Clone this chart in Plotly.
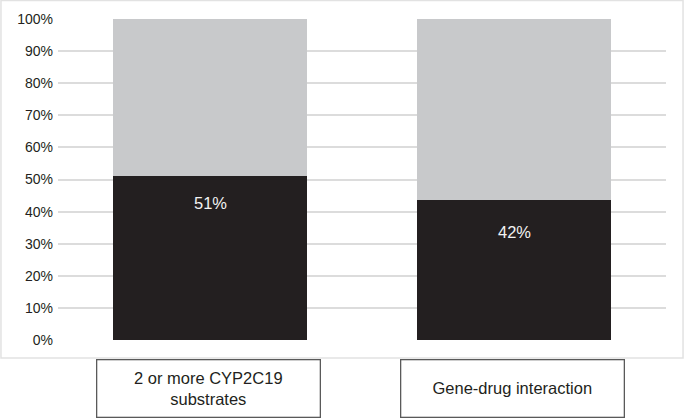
import plotly.graph_objects as go

categories = ["2 or more CYP2C19<br>substrates", "Gene-drug interaction"]
yes_values = [51, 43.6]
no_values = [49, 56.4]
bar_labels = ["51%", "42%"]
label_yshift = [-27, -32]
tick_vals = [0, 10, 20, 30, 40, 50, 60, 70, 80, 90, 100]
tick_text = [f"{v}%" for v in tick_vals]

x_idx = list(range(len(categories)))

fig = go.Figure()
fig.add_trace(go.Bar(x=x_idx, y=yes_values, marker=dict(color="#231f20", line=dict(width=0)),
                     width=0.64, showlegend=False, hoverinfo="skip"))
fig.add_trace(go.Bar(x=x_idx, y=no_values, marker=dict(color="#c8c9cb", line=dict(width=0)),
                     width=0.64, showlegend=False, hoverinfo="skip"))

annotations = []
for i, (v, lab, ys) in enumerate(zip(yes_values, bar_labels, label_yshift)):
    annotations.append(dict(x=i, y=v, xref="x", yref="y", text=lab, showarrow=False,
                            yshift=ys, yanchor="middle",
                            font=dict(family="Liberation Sans, Arial, sans-serif", size=16.5, color="#f2f2f2")))
for i, cat in enumerate(categories):
    annotations.append(dict(x=i, y=-0.151, xref="x", yref="paper", text=cat, showarrow=False,
                            xshift=-2, yanchor="middle", xanchor="center",
                            width=222, height=56, borderpad=0, borderwidth=1.3,
                            bordercolor="#5a5a5a", bgcolor="white",
                            font=dict(family="Liberation Sans, Arial, sans-serif", size=16.5, color="#231f20")))

fig.update_layout(
    barmode="stack",
    width=685, height=419,
    margin=dict(l=58, r=19, t=19, b=79),
    paper_bgcolor="white", plot_bgcolor="white",
    annotations=annotations,
    shapes=[dict(type="rect", xref="paper", yref="paper", x0=-0.0938, x1=1.028, y0=-0.056, y1=1.0576,
                 line=dict(color="#e2e2e2", width=1.5), layer="below")],
    xaxis=dict(range=[-0.5, 1.5], showticklabels=False, showgrid=False, zeroline=False,
               showline=False, ticks=""),
    yaxis=dict(range=[0, 100], tickvals=tick_vals, ticktext=tick_text, showgrid=True,
               gridcolor="#dcdcdc", gridwidth=1.5, zeroline=False, showline=False, ticks="",
               ticklabelstandoff=4,
               tickfont=dict(family="Liberation Sans, Arial, sans-serif", size=14, color="#231f20")),
)

fig.write_html("out.html", config={"displayModeBar": False},
               post_script="document.body.style.margin='0';document.body.style.overflow='hidden';")
